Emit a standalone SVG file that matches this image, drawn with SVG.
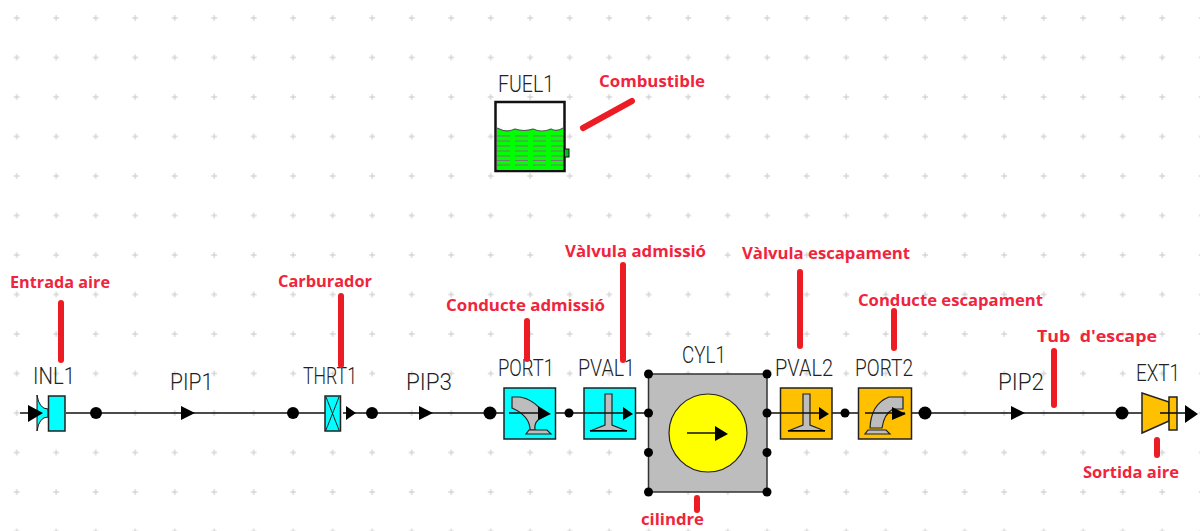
<svg xmlns="http://www.w3.org/2000/svg" width="1200" height="531" viewBox="0 0 1200 531">
<style>
.n{font-family:Roboto,"Liberation Sans",Arial,sans-serif;font-size:24.5px;fill:#222;font-weight:300}
.r{font-family:"Open Sans","Liberation Sans",sans-serif;font-size:16.5px;font-weight:700;fill:#f0243c}
.b{stroke:#ed1c24;stroke-width:6;stroke-linecap:round;fill:none}
.w{stroke:#111;stroke-width:1.6;fill:none}
.k{fill:#000}
.body{stroke:#222;stroke-width:1.5}
.g{fill:#bdbdbd;stroke:#222;stroke-width:1.2}
</style>
<defs>
<pattern id="grid" x="16.7" y="18" width="39.5" height="39.5" patternUnits="userSpaceOnUse">
<path d="M0 -3V3M-3 0H3M39.5 -3V3M36.5 0H42.5M0 36.5V42.5M-3 39.5H3M39.5 36.5V42.5M36.5 39.5H42.5" stroke="#c8c8c8" stroke-width="1" fill="none"/>
</pattern>
<path id="tri" d="M-7 -7L7 0L-7 7Z" class="k"/>
</defs>
<rect width="1200" height="531" fill="#fff"/>
<rect id="grid-layer" width="1200" height="531" fill="url(#grid)"/>

<g id="connectors">
<path class="w" d="M20 413H48M66 413H96M96 413H293M293 413H325M343 413H372M372 413H490M490 413H504M528 413H569M569 413H584M636 413H648M768 413H780M832 413H845M845 413H858M912 413H925M925 413H1122M1122 413H1142M1160 413H1170"/>
<use href="#tri" x="188" y="413"/>
<use href="#tri" x="426" y="413"/>
<use href="#tri" x="1018" y="413"/>
<circle class="k" cx="96" cy="413" r="6"/>
<circle class="k" cx="293" cy="413" r="6"/>
<circle class="k" cx="372" cy="413" r="6"/>
<circle class="k" cx="490" cy="413" r="6.500"/>
<circle class="k" cx="569" cy="413" r="4.500"/>
<circle class="k" cx="845" cy="413" r="4.500"/>
<circle class="k" cx="925" cy="413" r="6.500"/>
<circle class="k" cx="1122" cy="413" r="6.500"/>
</g>

<g id="FUEL1">
<rect x="495.500" y="102" width="69" height="69" fill="#fff" stroke="#111" stroke-width="2.500"/>
<path d="M497 128q9 5 18 1q9 3 18 0q9 4 18 0q6 3 12 -1V170H497Z" fill="#00ff00"/>
<path d="M497 128q9 5 18 1q9 3 18 0q9 4 18 0q6 3 12 -1" fill="none" stroke="#555" stroke-width="1.200"/>
<path d="M497 136H563M497 141H563M497 146H563M497 151H563M497 156H563M497 160.500H563M497 165H563" stroke="#777" stroke-width="1.200" stroke-dasharray="13 5"/>
<rect x="564.500" y="149" width="4.500" height="8" fill="#00c020" stroke="#111" stroke-width="1"/>
<text class="n" x="498" y="92" textLength="56" lengthAdjust="spacingAndGlyphs">FUEL1</text>
</g>

<g id="INL1">
<path d="M37 395Q39 409 48 409V417Q39 417 37 431" fill="#00ffff" stroke="#111" stroke-width="1"/>
<path d="M37 395V431" stroke="#111" stroke-width="1"/>
<path d="M28 405L43 413L28 422Z" class="k"/>
<rect x="48.500" y="396" width="16.500" height="35" fill="#00ffff" class="body"/>
<text class="n" x="33" y="384" textLength="42" lengthAdjust="spacingAndGlyphs">INL1</text>
</g>

<text id="PIP1" class="n" x="170" y="390" textLength="43" lengthAdjust="spacingAndGlyphs">PIP1</text>

<g id="THRT1">
<rect x="325" y="396" width="15.500" height="35" fill="#00ffff" class="body"/>
<path d="M326 397L339 430M339 397L326 430" stroke="#222" stroke-width="1"/>
<path d="M346 406L356 413L346 420Z" class="k"/>
<text class="n" x="303" y="384" textLength="54" lengthAdjust="spacingAndGlyphs">THRT1</text>
</g>

<text id="PIP3" class="n" x="406" y="390" textLength="46" lengthAdjust="spacingAndGlyphs">PIP3</text>

<g id="PORT1">
<rect x="504" y="388" width="51.500" height="51" fill="#00ffff" class="body"/>
<path class="g" d="M512 397H520Q536 400 545 416L538 420Q534 424 535 430H530Q530 416 512 408Z"/>
<path class="g" d="M529 430L526 434H551L547 430Z"/>
<path class="w" d="M509 413H548"/>
<path d="M538 406L551 414L538 420Z" class="k"/>
<text class="n" x="498" y="376" textLength="56" lengthAdjust="spacingAndGlyphs">PORT1</text>
</g>

<g id="PVAL1">
<rect x="584" y="388" width="51.500" height="51" fill="#00ffff" class="body"/>
<path class="g" d="M605 394H612V425L627 431H590L605 425Z"/>
<path d="M590 430H627V431.500H590Z" class="k"/>
<path class="w" d="M584 413H628"/>
<path d="M623 407L633 414L623 420Z" class="k"/>
<text class="n" x="578" y="376" textLength="57" lengthAdjust="spacingAndGlyphs">PVAL1</text>
</g>

<g id="CYL1">
<rect x="648.500" y="374" width="118.500" height="118" fill="#bdbdbd" stroke="#333" stroke-width="1.500"/>
<circle cx="708" cy="433" r="39" fill="#ffff00" stroke="#222" stroke-width="1.200"/>
<path class="w" d="M687 433H720"/>
<path d="M715 426L728 434L715 441Z" class="k"/>
<circle class="k" cx="648.500" cy="374" r="4.500"/>
<circle class="k" cx="767" cy="374" r="4.500"/>
<circle class="k" cx="648.500" cy="413" r="4.500"/>
<circle class="k" cx="767" cy="413" r="4.500"/>
<circle class="k" cx="648.500" cy="452.500" r="4.500"/>
<circle class="k" cx="767" cy="452.500" r="4.500"/>
<circle class="k" cx="648.500" cy="492" r="4.500"/>
<circle class="k" cx="767" cy="492" r="4.500"/>
<text class="n" x="682" y="363" textLength="44" lengthAdjust="spacingAndGlyphs">CYL1</text>
</g>

<g id="PVAL2">
<rect x="780.500" y="388" width="51.500" height="51" fill="#ffc000" class="body"/>
<path class="g" d="M803 394H810V425L825 431H788L803 425Z"/>
<path d="M788 430H825V431.500H788Z" class="k"/>
<path class="w" d="M780 413H824"/>
<path d="M819 407L829 414L819 420Z" class="k"/>
<text class="n" x="775" y="376" textLength="58" lengthAdjust="spacingAndGlyphs">PVAL2</text>
</g>

<g id="PORT2">
<rect x="858.500" y="388" width="53" height="51" fill="#ffc000" class="body"/>
<path class="g" d="M903 397V409H893Q884 414 882 428H870Q871 404 889 397Z"/>
<path class="g" d="M868 430L865 434H890L886 430Z"/>
<path class="w" d="M865 413H905"/>
<path d="M892 407L906 414L892 420Z" class="k"/>
<text class="n" x="855" y="376" textLength="58" lengthAdjust="spacingAndGlyphs">PORT2</text>
</g>

<text id="PIP2" class="n" x="998" y="390" textLength="46" lengthAdjust="spacingAndGlyphs">PIP2</text>

<g id="EXT1">
<path d="M1142 393L1169 402V421L1142 433Z" fill="#ffc000" class="body"/>
<rect x="1169" y="397" width="8" height="33" fill="#ffc000" class="body"/>
<path class="w" d="M1160 413H1185"/>
<path d="M1185 405L1198 414L1185 423Z" class="k"/>
<text class="n" x="1136" y="381" textLength="44" lengthAdjust="spacingAndGlyphs">EXT1</text>
</g>

<g id="annotations">
<path class="b" d="M583 128L632 101"/>
<path class="b" d="M61 303V360"/>
<path class="b" d="M341 296V365"/>
<path class="b" d="M527 321V359"/>
<path class="b" d="M623 265V360"/>
<path class="b" d="M800 272V346"/>
<path class="b" d="M894 311V348"/>
<path class="b" d="M1054 351V405"/>
<path class="b" d="M1157 440V455"/>
<path class="b" d="M697 498V510"/>
<text class="r" x="599" y="87" textLength="106" lengthAdjust="spacingAndGlyphs">Combustible</text>
<text class="r" x="10" y="288" textLength="100" lengthAdjust="spacingAndGlyphs">Entrada aire</text>
<text class="r" x="278" y="287" textLength="94" lengthAdjust="spacingAndGlyphs">Carburador</text>
<text class="r" x="446" y="311" textLength="159" lengthAdjust="spacingAndGlyphs">Conducte admissió</text>
<text class="r" x="565" y="257" textLength="141" lengthAdjust="spacingAndGlyphs">Vàlvula admissió</text>
<text class="r" x="742" y="259" textLength="168" lengthAdjust="spacingAndGlyphs">Vàlvula escapament</text>
<text class="r" x="858" y="306" textLength="185" lengthAdjust="spacingAndGlyphs">Conducte escapament</text>
<text class="r" x="1037" y="342" textLength="120" lengthAdjust="spacingAndGlyphs" xml:space="preserve">Tub  d'escape</text>
<text class="r" x="1083" y="478" textLength="96" lengthAdjust="spacingAndGlyphs">Sortida aire</text>
<text class="r" x="641" y="525" textLength="63" lengthAdjust="spacingAndGlyphs">cilindre</text>
</g>
</svg>
